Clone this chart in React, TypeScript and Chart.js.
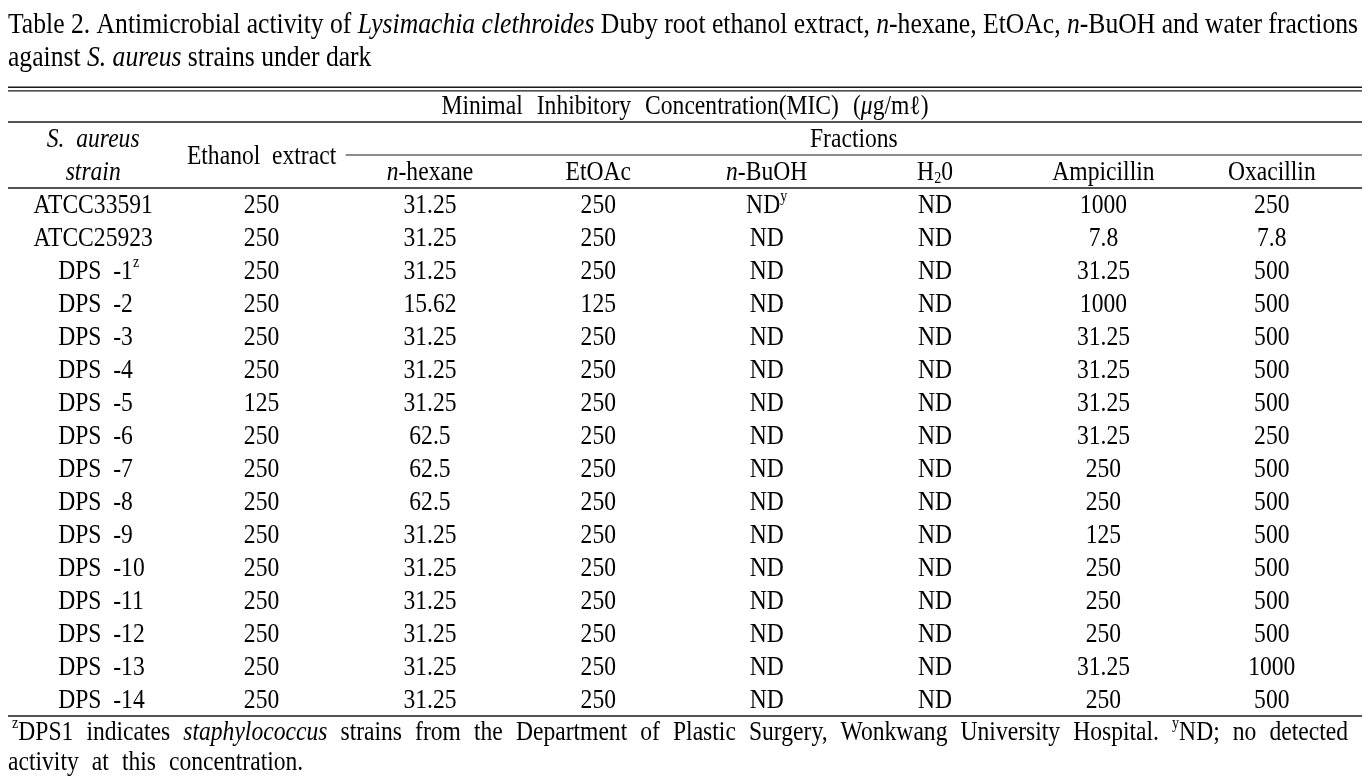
import React, { useEffect, useRef } from 'react';
import { Chart, registerables } from 'chart.js';

Chart.register(...registerables);

// ---------- data ----------
const strains = [
  'ATCC33591', 'ATCC25923', 'DPS  -1', 'DPS  -2', 'DPS  -3', 'DPS  -4', 'DPS  -5', 'DPS  -6',
  'DPS  -7', 'DPS  -8', 'DPS  -9', 'DPS  -10', 'DPS  -11', 'DPS  -12', 'DPS  -13', 'DPS  -14',
];
const strainNotes = ['', '', 'z', '', '', '', '', '', '', '', '', '', '', '', '', ''];

const columnKeys = ['strain', 'ethanol', 'hexane', 'etoac', 'buoh', 'water', 'ampicillin', 'oxacillin'];

const ethanolExtract = [250, 250, 250, 250, 250, 250, 125, 250, 250, 250, 250, 250, 250, 250, 250, 250];
const hexaneFraction = [31.25, 31.25, 31.25, 15.62, 31.25, 31.25, 31.25, 62.5, 62.5, 62.5, 31.25, 31.25, 31.25, 31.25, 31.25, 31.25];
const etoacFraction = [250, 250, 250, 125, 250, 250, 250, 250, 250, 250, 250, 250, 250, 250, 250, 250];
const buohFraction = [null, null, null, null, null, null, null, null, null, null, null, null, null, null, null, null];
const waterFraction = [null, null, null, null, null, null, null, null, null, null, null, null, null, null, null, null];
const ampicillin = [1000, 7.8, 31.25, 1000, 31.25, 31.25, 31.25, 31.25, 250, 250, 125, 250, 250, 250, 31.25, 250];
const oxacillin = [250, 7.8, 500, 500, 500, 500, 500, 250, 500, 500, 500, 500, 500, 500, 1000, 500];
const valueNotes: Record<string, string[]> = { buoh: ['y'] };

type Run = { t: string; i?: boolean; sup?: boolean; sub?: boolean };

const titleLine1: Run[] = [
  { t: 'Table 2. Antimicrobial activity of ' },
  { t: 'Lysimachia clethroides', i: true },
  { t: ' Duby root ethanol extract, ' },
  { t: 'n', i: true },
  { t: '-hexane, EtOAc, ' },
  { t: 'n', i: true },
  { t: '-BuOH and water fractions' },
];
const titleLine2: Run[] = [{ t: 'against ' }, { t: 'S. aureus', i: true }, { t: ' strains under dark' }];

const micHeader: Run[] = [
  { t: 'Minimal Inhibitory Concentration(MIC) (' },
  { t: 'μ', i: true },
  { t: 'g/mℓ)' },
];
const fractionsHeader: Run[] = [{ t: 'Fractions' }];
const columnHeaders: Run[][] = [
  [],
  [{ t: 'Ethanol  extract' }],
  [{ t: 'n', i: true }, { t: '-hexane' }],
  [{ t: 'EtOAc' }],
  [{ t: 'n', i: true }, { t: '-BuOH' }],
  [{ t: 'H' }, { t: '2', sub: true }, { t: '0' }],
  [{ t: 'Ampicillin' }],
  [{ t: 'Oxacillin' }],
];
const strainHeader1: Run[] = [{ t: 'S.  aureus', i: true }];
const strainHeader2: Run[] = [{ t: 'strain', i: true }];

const footLine1: Run[] = [
  { t: 'z', sup: true },
  { t: 'DPS1 indicates ' },
  { t: 'staphylococcus', i: true },
  { t: ' strains from the Department of Plastic Surgery, Wonkwang University Hospital. ' },
  { t: 'y', sup: true },
  { t: 'ND; no detected' },
];
const footLine2: Run[] = [{ t: 'activity at this concentration.' }];

// ---------- text helpers ----------
const FAMILY = '"Liberation Serif", "Times New Roman", serif';
const INK = '#000';
const TEXT_SIZE = 26.5;
const TEXT_SX = 0.89;
const BASE_DY = 1.8;

type Piece = { text: string; font: string; w: number; space: boolean; dy: number };

function makePieces(ctx: CanvasRenderingContext2D, runs: Run[], size: number): Piece[] {
  const out: Piece[] = [];
  for (const r of runs) {
    const parts = r.t.split(/( +)/).filter((p) => p.length > 0);
    for (const p of parts) {
      const small = r.sup || r.sub;
      const fs = small ? size * 0.6 : size;
      const font = `${r.i ? 'italic ' : ''}${fs}px ${FAMILY}`;
      ctx.font = font;
      out.push({
        text: p,
        font,
        w: ctx.measureText(p).width,
        space: /^ +$/.test(p),
        dy: r.sup ? -size * 0.34 : r.sub ? size * 0.2 : 0,
      });
    }
  }
  return out;
}

function drawRuns(
  ctx: CanvasRenderingContext2D,
  runs: Run[],
  x: number,
  y: number,
  o: { size: number; align?: 'left' | 'center' | 'right'; justify?: number; sx?: number; gap?: number; fit?: number }
): { extra: number; sx: number } {
  const ps = makePieces(ctx, runs, o.size);
  const total = ps.reduce((s, p) => s + p.w, 0);
  const nsp = ps.filter((p) => p.space).length;
  let sx = o.sx ?? 1;
  if (o.fit) sx = o.fit / total;
  let extra = 0;
  if (o.justify && nsp > 0) extra = (o.justify / sx - total) / nsp;
  else if (o.gap) extra = o.gap;
  const width = (total + extra * nsp) * sx;
  const align = o.align ?? 'left';
  const x0 = align === 'center' ? x - width / 2 : align === 'right' ? x - width : x;
  ctx.save();
  ctx.translate(x0, y + BASE_DY);
  ctx.scale(sx, 1);
  ctx.textBaseline = 'middle';
  ctx.textAlign = 'left';
  ctx.fillStyle = INK;
  let cx = 0;
  for (const p of ps) {
    if (p.space) {
      cx += p.w + extra;
    } else {
      ctx.font = p.font;
      ctx.fillText(p.text, cx, p.dy);
      cx += p.w;
    }
  }
  ctx.restore();
  return { extra, sx };
}

function hRule(ctx: CanvasRenderingContext2D, x1: number, x2: number, y: number, w: number) {
  ctx.save();
  ctx.strokeStyle = '#1a1a1a';
  ctx.lineWidth = w;
  ctx.beginPath();
  ctx.moveTo(x1, y);
  ctx.lineTo(x2, y);
  ctx.stroke();
  ctx.restore();
}

const fmt = (v: number | null) => (v === null ? 'ND' : String(v));

const tablePlugin = {
  id: 'tablePlugin',
  afterDraw(chart: any) {
    const ctx: CanvasRenderingContext2D = chart.ctx;
    const xs = chart.scales.x;
    const ys = chart.scales.y;
    const area = chart.chartArea;
    const rowH = ys.getPixelForValue(1) - ys.getPixelForValue(0);
    const TL = 8;
    const TR = 1362;
    const size = TEXT_SIZE;
    const sx = TEXT_SX;

    // title
    const t = drawRuns(ctx, titleLine1, TL, 24, { size: 29, fit: 1350 });
    drawRuns(ctx, titleLine2, TL, 57, { size: 29, sx: t.sx });

    // rules
    const top = area.top;
    hRule(ctx, TL, TR, top - 3 * rowH - 1.8, 1.6);
    hRule(ctx, TL, TR, top - 3 * rowH + 1.8, 1.2);
    hRule(ctx, TL, TR, top - 2 * rowH, 1.5);
    const fracLeft = (xs.getPixelForValue(1) + xs.getPixelForValue(2)) / 2;
    hRule(ctx, fracLeft, TR, top - rowH, 1.2);
    hRule(ctx, TL, TR, top, 1.5);
    hRule(ctx, TL, TR, area.bottom, 1.5);

    // header
    drawRuns(ctx, micHeader, (TL + TR) / 2, top - 2.5 * rowH, { size, sx, align: 'center', justify: 487 });
    const fracCenter = (fracLeft + TR) / 2;
    drawRuns(ctx, fractionsHeader, fracCenter, top - 1.5 * rowH, { size, sx, align: 'center' });
    const c0 = xs.getPixelForValue(0);
    drawRuns(ctx, strainHeader1, c0, top - 1.5 * rowH, { size, sx, align: 'center' });
    drawRuns(ctx, strainHeader2, c0, top - 0.5 * rowH, { size, sx, align: 'center' });
    drawRuns(ctx, columnHeaders[1], xs.getPixelForValue(1), top - rowH, { size, sx, align: 'center' });
    for (let c = 2; c < columnHeaders.length; c++) {
      drawRuns(ctx, columnHeaders[c], xs.getPixelForValue(c), top - 0.5 * rowH, { size, sx, align: 'center' });
    }

    // cells
    chart.data.datasets.forEach((ds: any, di: number) => {
      const meta = chart.getDatasetMeta(di);
      meta.data.forEach((el: any, ri: number) => {
        const raw = ds.data[ri];
        const runs: Run[] = [{ t: raw.label }];
        if (raw.note) runs.push({ t: raw.note, sup: true });
        if (ds.key === 'strain' && raw.label.startsWith('DPS')) {
          drawRuns(ctx, runs, el.x - 35, el.y, { size, sx, align: 'left' });
        } else {
          drawRuns(ctx, runs, el.x, el.y, { size, sx, align: 'center' });
        }
      });
    });

    // footnotes
    const f = drawRuns(ctx, footLine1, 12, area.bottom + 15, { size, sx, justify: 1336 });
    drawRuns(ctx, footLine2, 8, area.bottom + 45, { size, sx, gap: f.extra });
  },
};

export default function App() {
  const ref = useRef<HTMLCanvasElement | null>(null);
  useEffect(() => {
    if (!ref.current) return;
    const cols: (number | null)[][] = [
      ethanolExtract, hexaneFraction, etoacFraction, buohFraction, waterFraction, ampicillin, oxacillin,
    ];
    const datasets: any[] = [
      {
        key: 'strain',
        data: strains.map((s, r) => ({ x: 'strain', y: s, label: s, note: strainNotes[r] })),
      },
      ...cols.map((vals, ci) => {
        const key = columnKeys[ci + 1];
        const notes = valueNotes[key] || [];
        return {
          key,
          data: vals.map((v, r) => ({ x: key, y: strains[r], label: fmt(v), note: notes[r] || '' })),
        };
      }),
    ];
    const chart = new Chart(ref.current, {
      type: 'scatter',
      data: { datasets },
      options: {
        responsive: false,
        animation: false,
        layout: { padding: { left: 9, right: 15, top: 188, bottom: 66 } },
        plugins: { legend: { display: false }, tooltip: { enabled: false } },
        elements: { point: { radius: 0, hoverRadius: 0 } },
        events: [],
        scales: {
          x: { type: 'category', labels: columnKeys, offset: true, display: false },
          y: { type: 'category', labels: strains, offset: true, display: false },
        },
      },
      plugins: [tablePlugin],
    } as any);
    return () => chart.destroy();
  }, []);
  return (
    <div style={{ position: 'absolute', left: 0, top: 0, width: 1371, height: 782, background: '#fff' }}>
      <canvas ref={ref} width={1371} height={782} style={{ display: 'block' }} />
    </div>
  );
}
